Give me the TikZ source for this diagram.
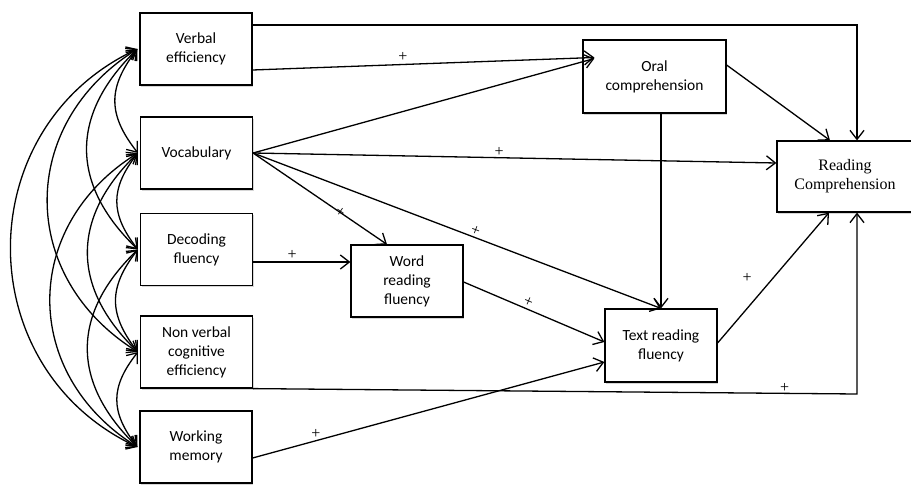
\documentclass[tikz,border=0pt]{standalone}
\usepackage{fontspec}
\setmainfont{Carlito}
\newfontfamily\timesfont{Liberation Serif}
\usetikzlibrary{arrows.meta,shadows}
\tikzset{
  var_box/.style = {draw=black, line width=1.2pt, fill=white, align=center,
    inner sep=0pt, minimum width=112pt, minimum height=72pt,
    font=\fontsize{15.5}{19}\selectfont,
    drop shadow={shadow xshift=1.2pt, shadow yshift=-1.8pt, fill=black!40, opacity=.4}},
  out_box/.style = {var_box, font=\timesfont\fontsize{16}{19}\selectfont},
  sign/.style = {font=\timesfont\fontsize{16}{16}\selectfont, inner sep=1pt},
  cov/.style = {<->, looseness=1.2}}

\begin{document}
\begin{tikzpicture}[x=1pt, y=-1pt, ->, >={Straight Barb[length=9pt,width=14pt]},
  line width=1.3pt]
\useasboundingbox (0,0) rectangle (911,487);

\node [var_box] (ve) at (196,49) {Verbal\\efficiency};
\node [var_box] (voc) at (196.5,153) {Vocabulary};
\node [var_box] (dec) at (196.5,249.5) {Decoding\\fluency};
\node [var_box] (nv) at (196.5,352) {Non verbal\\cognitive\\efficiency};
\node [var_box] (wm) at (196,447) {Working\\memory};
\node [var_box] (wrf) at (407,281) {Word\\reading\\fluency};
\node [var_box, minimum height=73pt] (trf) at (661,345.5) {Text reading\\fluency};
\node [var_box, minimum width=143pt, minimum height=73pt] (oc) at (654.5,76.5)
  {Oral\\comprehension};
\node [out_box, minimum width=136pt, minimum height=71pt] (rc) at (845,176.5)
  {Reading\\Comprehension};
\coordinate (nv_turn) at (857,394);

\foreach \a/\b/\t in {ve/voc/38, voc/dec/38, dec/nv/38, nv/wm/38,
    ve/dec/46, voc/nv/46, dec/wm/46, ve/nv/58, voc/wm/58, ve/wm/65}
  \draw [cov] ([xshift=-2pt]\a.west) to[bend right=\t] ([xshift=-2pt]\b.west);

\draw ([yshift=24pt]ve.east) -| ([xshift=12pt]rc.north);
\draw ([yshift=-21pt]ve.east) -- node[sign, pos=0.44, above=1pt] {+}
  ([xshift=12pt, yshift=19pt]oc.west);
\draw (voc.east) -- ([xshift=12pt, yshift=18pt]oc.west);
\draw (voc.east) -- node[sign, pos=0.47, above=0pt] {+} ([yshift=13.5pt]rc.west);
\draw (voc.east) -- node[sign, pos=0.65, sloped] {+} ([xshift=-20pt]wrf.north);
\draw (voc.east) -- node[sign, pos=0.54, sloped, above=0pt] {+} (trf.north);
\draw ([yshift=-12.5pt]dec.east) -- node[sign, pos=0.4, above=1pt] {+}
  ([yshift=19pt]wrf.west);
\draw ([yshift=-1pt]wrf.east) -- node[sign, pos=0.44, sloped, above=1pt] {+}
  ([yshift=3.5pt]trf.west);
\draw ([xshift=6.5pt]oc.south) -- (trf.north);
\draw ([yshift=11.5pt]oc.east) -- ([xshift=-15pt]rc.north);
\draw ([yshift=2.5pt]trf.east) -- node[sign, pos=0.5, left=20pt] {+}
  ([xshift=-16pt]rc.south);
\draw (nv.south east) -- node[sign, pos=0.88, above=-1pt] {+} (nv_turn)
  -- ([xshift=12pt]rc.south);
\draw ([yshift=-11pt]wm.east) -- node[sign, pos=0.18, above=1pt] {+}
  ([yshift=-16.5pt]trf.west);
\end{tikzpicture}
\end{document}
